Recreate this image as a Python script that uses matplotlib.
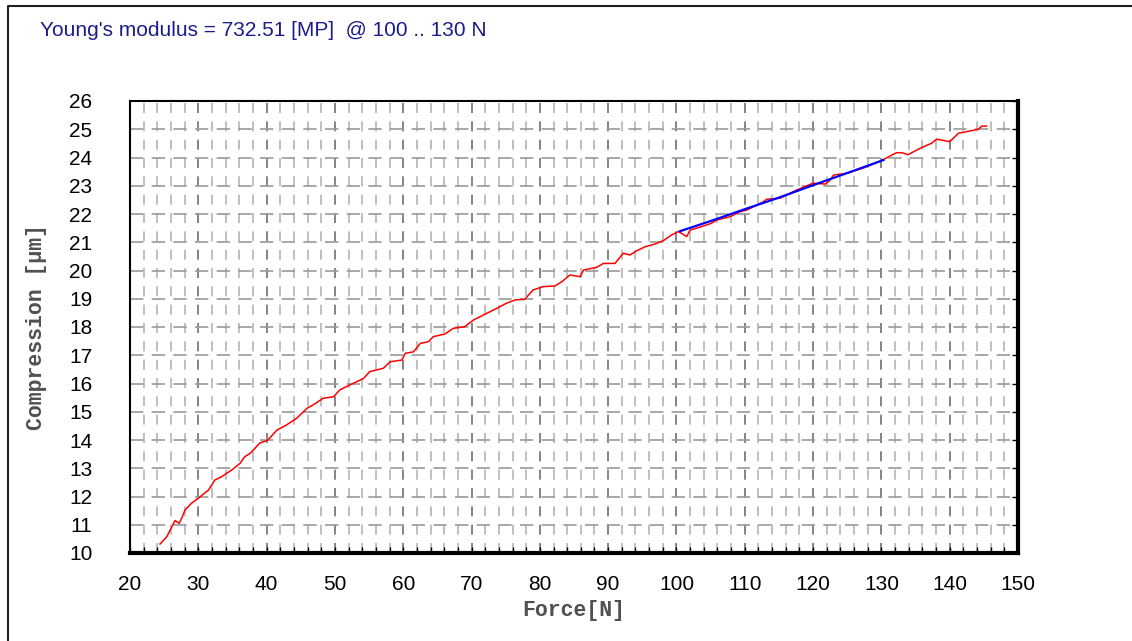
import matplotlib.pyplot as plt
from matplotlib.lines import Line2D
from matplotlib.ticker import MultipleLocator

title = "Young's modulus = 732.51 [MP]  @ 100 .. 130 N"

# measured curve (Force [N] -> Compression [um])
force = [24.4, 25.4, 26.0, 26.6, 27.2, 27.6, 28.05, 29.0, 30.0, 31.5,
         32.4, 33.4, 34.9, 36.1, 36.8, 37.6, 39.0, 40.2, 41.5, 42.9,
         44.4, 45.9, 46.8, 48.3, 49.8, 50.7, 52.2, 54.2, 55.1, 57.1,
         58.1, 59.8, 60.3, 61.5, 62.5, 63.7, 64.4, 66.1, 67.3, 69.0,
         70.3, 72.2, 73.7, 75.1, 76.4, 77.8, 79.0, 80.5, 82.2, 83.2,
         84.4, 85.9, 86.4, 88.3, 89.3, 91.0, 92.2, 93.2, 94.2, 95.4,
         96.9, 98.1, 99.3, 100.3, 101.5, 102.0, 103.9, 105.1, 105.9, 107.8,
         109.3, 110.3, 112.7, 113.2, 115.2, 117.6, 120.0, 121.8, 122.5, 123.0,
         124.9, 127.3, 130.0, 132.2, 133.0, 133.9, 135.7, 137.4, 138.1, 140.0,
         141.3, 143.0, 144.2, 144.7, 145.4]
compression = [10.32, 10.58, 10.87, 11.15, 11.05, 11.25, 11.52, 11.76, 11.94, 12.23,
               12.58, 12.70, 12.94, 13.17, 13.41, 13.53, 13.89, 14.0, 14.35, 14.53,
               14.77, 15.12, 15.24, 15.48, 15.53, 15.77, 15.95, 16.18, 16.42, 16.54,
               16.77, 16.83, 17.07, 17.12, 17.42, 17.48, 17.66, 17.75, 17.95, 18.01,
               18.25, 18.48, 18.66, 18.84, 18.96, 18.98, 19.31, 19.43, 19.45, 19.60,
               19.84, 19.78, 20.02, 20.11, 20.25, 20.25, 20.61, 20.55, 20.70, 20.84,
               20.94, 21.06, 21.26, 21.38, 21.2, 21.43, 21.57, 21.67, 21.79, 21.9,
               22.08, 22.14, 22.43, 22.52, 22.56, 22.85, 23.09, 23.06, 23.2, 23.38,
               23.44, 23.62, 23.89, 24.17, 24.17, 24.1, 24.33, 24.51, 24.65, 24.56,
               24.86, 24.94, 25.0, 25.11, 25.11]

# fit line over 100 .. 130 N
fit_force = [100.5, 105, 110, 115, 120, 125, 130.3]
fit_compression = [21.39, 21.75, 22.17, 22.58, 23.02, 23.45, 23.91]

x_ticks = list(range(20, 151, 10))
y_ticks = list(range(10, 27, 1))

fig = plt.figure(figsize=(11.32, 6.41), dpi=100)
ax = fig.add_axes([130/1132, 1 - 553/641, 888/1132, 452/641])

# grid
for xv in range(22, 150, 2):
    major = xv % 10 == 0
    ax.axvline(xv, color='#707070' if major else '#b4b4b4', lw=1.2,
               ls=(0, (6, 5)), zorder=1)
for yv in y_ticks[1:-1]:
    ax.axhline(yv, color='#9a9a9a', lw=1.2, ls=(0, (8, 5)), zorder=1)

ax.plot(force, compression, color='#ff0000', lw=1.1, zorder=3)
ax.plot(fit_force, fit_compression, color='#0000ff', lw=1.6, zorder=4)

ax.set_xlim(20, 150)
ax.set_ylim(10, 26)
ax.set_xticks(x_ticks)
ax.set_yticks(y_ticks)
ax.xaxis.set_minor_locator(MultipleLocator(2))

ax.tick_params(axis='x', which='both', direction='in', length=4, width=1,
               top=False, bottom=True, pad=16, labelsize=15)
ax.tick_params(axis='y', which='both', direction='in', length=4, width=1,
               left=False, right=True, labelleft=True, pad=27, labelsize=15)
for lab in ax.get_xticklabels() + ax.get_yticklabels():
    lab.set_family('Liberation Sans')

ax.spines['left'].set_linewidth(1.5)
ax.spines['top'].set_linewidth(1.5)
ax.spines['right'].set_linewidth(3)
ax.spines['bottom'].set_linewidth(3)

ax.set_xlabel('Force[N]', family='Liberation Mono', fontsize=15.5,
              fontweight='bold', color='#505050', labelpad=4)
ax.set_ylabel('Compression [\u00b5m]', family='Liberation Mono', fontsize=15.5,
              fontweight='bold', color='#505050', labelpad=16)

fig.text(40/1132, 1 - 30/641, title, family='Liberation Sans', fontsize=15,
         color='#1c1c8c', va='center', ha='left')

# outer window frame
fig.add_artist(Line2D([8/1132, 8/1132, 1], [0, 1 - 6/641, 1 - 6/641],
                      transform=fig.transFigure, color='#202020', lw=1.5))

fig.savefig('out.png', dpi=100, facecolor='white')
